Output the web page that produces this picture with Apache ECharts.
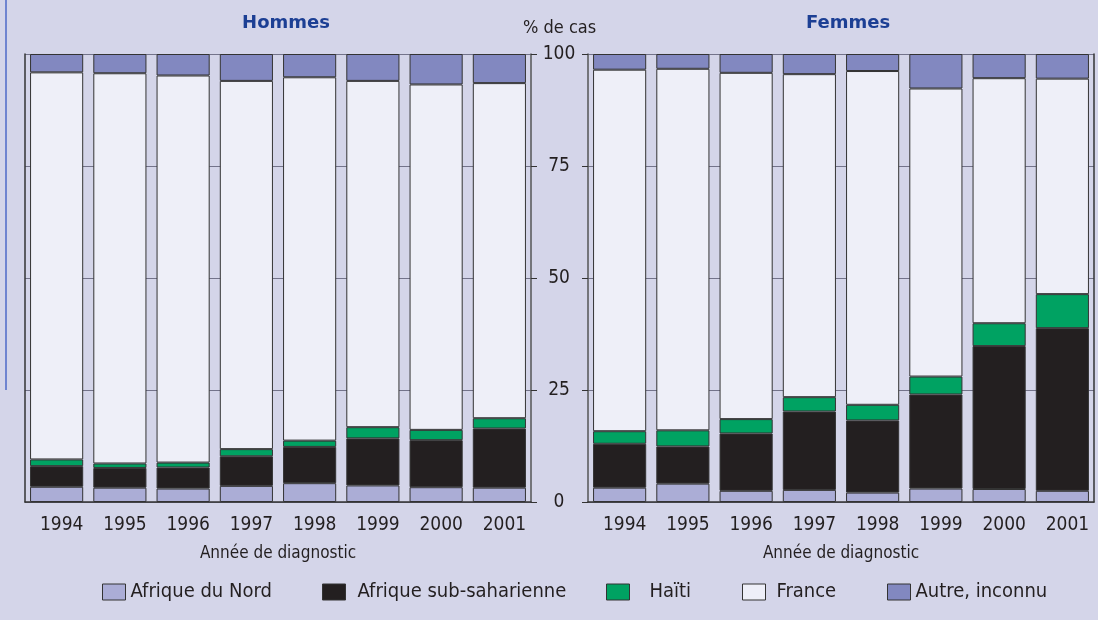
<html>
<head>
    <meta charset="utf-8">
    <title>Cas par origine</title>
    <script src="https://cdn.jsdelivr.net/npm/echarts@6/dist/echarts.min.js"></script>
    <style>
        body { margin: 0; background: #d4d5e9; }
    </style>
</head>
<body>
    <div id="main" style="width: 1098px;height:620px;"></div>
    <script type="text/javascript">
        var years = ['1994', '1995', '1996', '1997', '1998', '1999', '2000', '2001'];
        var groups = ['Afrique du Nord', 'Afrique sub-saharienne', 'Haïti', 'France', 'Autre, inconnu'];
        var colors = ['#abadd6', '#231f20', '#00a262', '#eeeff8', '#8288c0'];

        // Hommes, % de cas
        var hNord = [3.4, 3.2, 3.0, 3.6, 4.2, 3.7, 3.3, 3.2];
        var hSub = [4.6, 4.4, 4.7, 6.6, 8.1, 10.5, 10.5, 13.2];
        var hHaiti = [1.5, 1.0, 1.1, 1.6, 1.4, 2.5, 2.3, 2.3];
        var hFrance = [86.4, 87.1, 86.4, 82.2, 81.1, 77.3, 77.1, 74.8];
        var hAutre = [4.1, 4.3, 4.8, 6.0, 5.2, 6.0, 6.8, 6.5];

        // Femmes, % de cas
        var fNord = [3.2, 4.1, 2.5, 2.7, 2.1, 3.0, 2.9, 2.5];
        var fSub = [9.8, 8.3, 12.8, 17.5, 16.1, 21.0, 31.9, 36.3];
        var fHaiti = [2.8, 3.6, 3.2, 3.2, 3.5, 4.0, 5.1, 7.6];
        var fFrance = [80.7, 80.7, 77.3, 72.1, 74.5, 64.3, 54.7, 48.1];
        var fAutre = [3.5, 3.3, 4.2, 4.5, 3.8, 7.7, 5.4, 5.5];

        var yTicks = [0, 25, 50, 75, 100];

        var font = '"DejaVu Sans Condensed", "Liberation Sans Narrow", "DejaVu Sans", sans-serif';
        var dark = '#231f20';

        var myChart = echarts.init(document.getElementById('main'));

        function makeSeries(idx, stack, lists) {
            return lists.map(function (d, i) {
                return {
                    name: groups[i],
                    type: 'bar',
                    stack: stack,
                    xAxisIndex: idx,
                    yAxisIndex: idx * 2,
                    barCategoryGap: '16%',
                    data: d,
                    itemStyle: { color: colors[i], borderColor: '#333', borderWidth: 1 },
                    emphasis: { disabled: true }
                };
            });
        }

        function xAx(idx) {
            return {
                type: 'category', gridIndex: idx, data: years,
                axisLine: { lineStyle: { color: '#333', width: 1.5 } },
                axisTick: { show: false },
                axisLabel: { color: dark, fontSize: 19, fontFamily: font, margin: 14, padding: [0, 0, 0, 10] },
                name: 'Année de diagnostic', nameLocation: 'middle', nameGap: 43,
                nameTextStyle: { color: dark, fontSize: 17, fontFamily: font }
            };
        }

        function yAx(idx, pos, labels) {
            return {
                type: 'value', gridIndex: idx, position: pos, min: 0, max: 100, interval: 25,
                axisLine: { show: true, onZero: false, lineStyle: { color: labels === null ? '#333' : '#555', width: 1.5 } },
                axisTick: { show: labels !== null, length: 6, lineStyle: { color: '#333' } },
                axisLabel: labels ? { show: true, color: dark, fontSize: 19, fontFamily: font, align: 'center', margin: 29,
                    formatter: function (v) { return yTicks.indexOf(v) >= 0 ? v : ''; } } : { show: false },
                splitLine: { show: idx * 2 === 0 || labels === true ? true : false, lineStyle: { color: '#73738a', width: 1 } }
            };
        }

        var legendLeft = [102, 322, 606, 742, 887];
        var legendPad = [0, 7, 15, 6, 0];
        var legends = groups.map(function (g, i) {
            return {
                data: [{ name: g, icon: 'rect' }], left: legendLeft[i] - 5, top: 577,
                itemWidth: 23, itemHeight: 16, selectedMode: false,
                itemStyle: { borderColor: '#333', borderWidth: 1 },
                textStyle: { color: dark, fontSize: 20, fontFamily: font, padding: [0, 0, 0, legendPad[i]] }
            };
        });

        var option = {
            backgroundColor: '#d4d5e9',
            animation: false,
            title: [
                { text: 'Hommes', left: 281, top: 9, textAlign: 'center',
                  textStyle: { color: '#1c3f94', fontSize: 18, fontWeight: 'bold', fontFamily: '"DejaVu Sans", sans-serif' } },
                { text: 'Femmes', left: 843, top: 9, textAlign: 'center',
                  textStyle: { color: '#1c3f94', fontSize: 18, fontWeight: 'bold', fontFamily: '"DejaVu Sans", sans-serif' } }
            ],
            legend: legends,
            grid: [
                { left: 25, top: 54, width: 506, height: 448 },
                { left: 588, top: 54, width: 506, height: 448 }
            ],
            xAxis: [xAx(0), xAx(1)],
            yAxis: [
                yAx(0, 'right', false),
                yAx(0, 'left', null),
                yAx(1, 'left', true),
                yAx(1, 'right', null)
            ],
            graphic: [
                { type: 'rect', left: 5, top: 0, shape: { width: 2, height: 390 }, style: { fill: '#6f84d0' } },
                { type: 'text', left: 523, top: 19, style: { text: '% de cas', fill: dark, font: '18px ' + font } }
            ],
            series: makeSeries(0, 'h', [hNord, hSub, hHaiti, hFrance, hAutre])
                .concat(makeSeries(1, 'f', [fNord, fSub, fHaiti, fFrance, fAutre]))
        };

        myChart.setOption(option);
    </script>
</body>
</html>
